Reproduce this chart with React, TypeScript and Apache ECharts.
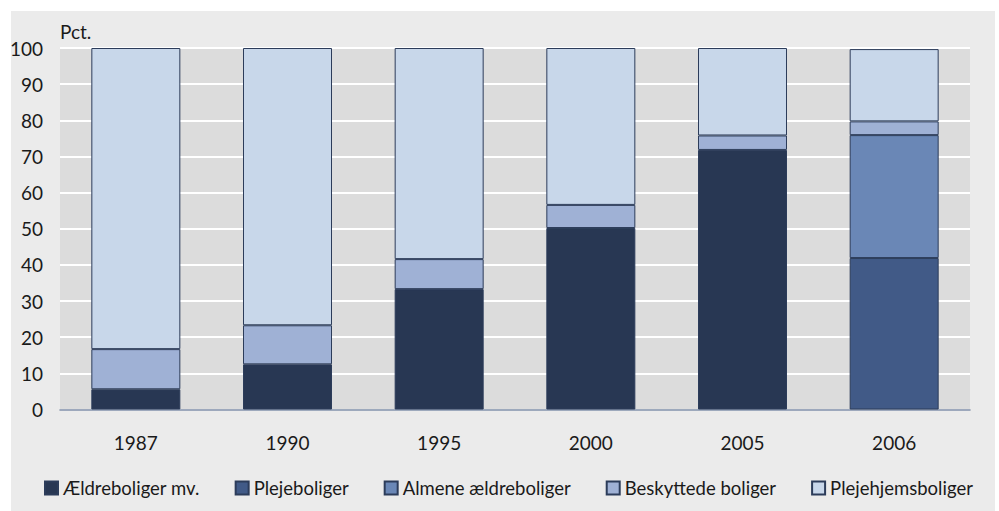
import React, { useEffect, useRef } from "react";
import * as echarts from "echarts";

const years = ["1987", "1990", "1995", "2000", "2005", "2006"];
const aeldreboliger = [5.6, 12.5, 33.3, 50.2, 71.8, null];
const plejeboliger = [null, null, null, null, null, 41.9];
const almene = [null, null, null, null, null, 34.0];
const beskyttede = [11.1, 10.8, 8.3, 6.4, 4.0, 3.8];
const plejehjem = [83.3, 76.7, 58.4, 43.4, 24.2, 20.0];
const yTicks = [0, 10, 20, 30, 40, 50, 60, 70, 80, 90, 100];

const FONT = "Lato, 'Liberation Sans', sans-serif";
const FS = 19;
const LFS = 18.5;

export default function App() {
  const ref = useRef<HTMLDivElement>(null);
  useEffect(() => {
    if (!ref.current) return;
    const chart = echarts.init(ref.current, undefined, { renderer: "svg" });
    const mk = (name: string, data: (number | null)[], color: string) => ({
      name,
      type: "bar",
      stack: "total",
      data,
      barWidth: 89,
      itemStyle: { color, borderColor: "#2c3c5a", borderWidth: 1 },
    });
    chart.setOption({
      animation: false,
      backgroundColor: "#ffffff",
      textStyle: { fontFamily: FONT },
      graphic: [
        {
          type: "rect",
          z: -10,
          silent: true,
          shape: { x: 11, y: 11, width: 984, height: 500 },
          style: { fill: "#ebebeb" },
        },
      ],
      grid: {
        left: 60,
        right: 29,
        top: 48,
        bottom: 101.5,
        show: true,
        backgroundColor: "#dcdcdc",
        borderWidth: 0,
      },
      legend: {
        left: 44,
        top: 478,
        padding: 0,
        itemWidth: 13,
        itemHeight: 13,
        itemGap: 35,
        icon: "rect",
        textStyle: { fontFamily: FONT, fontSize: LFS, color: "#1a1a1a", lineHeight: 20 },
        data: ["Ældreboliger mv.", "Plejeboliger", "Almene ældreboliger", "Beskyttede boliger", "Plejehjemsboliger"],
      },
      xAxis: {
        type: "category",
        data: years,
        axisTick: { show: false },
        axisLine: { show: true, lineStyle: { color: "#7d8ca6", width: 1.5 } },
        axisLabel: { fontFamily: FONT, fontSize: FS, color: "#1a1a1a", margin: 23, lineHeight: 20 },
      },
      yAxis: {
        type: "value",
        min: 0,
        max: 100,
        interval: 10,
        name: "Pct.",
        nameLocation: "end",
        nameGap: 17,
        nameTextStyle: { fontFamily: FONT, fontSize: FS, color: "#1a1a1a", align: "left", verticalAlign: "middle" },
        axisLine: { show: false },
        axisTick: { show: false },
        axisLabel: {
          fontFamily: FONT,
          fontSize: FS,
          color: "#1a1a1a",
          margin: 17,
          formatter: (v: number) => (yTicks.includes(v) ? String(v) : ""),
        },
        splitLine: { show: true, lineStyle: { color: "#ffffff", width: 2 } },
      },
      series: [
        mk("Ældreboliger mv.", aeldreboliger, "#283753"),
        mk("Plejeboliger", plejeboliger, "#415a87"),
        mk("Almene ældreboliger", almene, "#6a87b6"),
        mk("Beskyttede boliger", beskyttede, "#9fb1d5"),
        mk("Plejehjemsboliger", plejehjem, "#c8d7ea"),
      ],
    });
    return () => chart.dispose();
  }, []);
  return (
    <div
      ref={ref}
      style={{ position: "absolute", left: 0, top: 0, width: 999, height: 511 }}
    />
  );
}
